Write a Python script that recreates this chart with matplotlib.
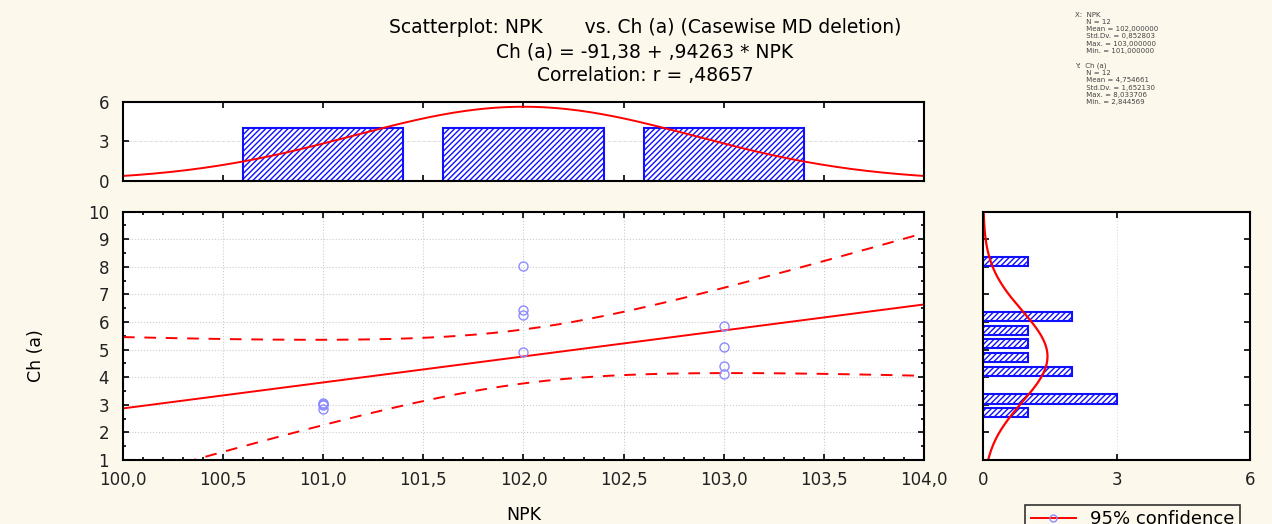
import numpy as np
import matplotlib
matplotlib.use("Agg")
import matplotlib.pyplot as plt
from matplotlib.lines import Line2D

plt.rcParams['font.family'] = ['DejaVu Sans']

# data
npk = [101, 101, 101, 101, 102, 102, 102, 102, 103, 103, 103, 103]
ch_a = [3.08, 3.04, 2.98, 2.845, 8.034, 6.42, 6.24, 4.93, 5.86, 5.10, 4.42, 4.10]
ch_bins = [2.46, 2.96, 3.46, 3.96, 4.46, 4.96, 5.46, 5.96, 6.46, 6.96, 7.46, 7.96, 8.46]

title_lines = ["Scatterplot: NPK       vs. Ch (a) (Casewise MD deletion)",
               "Ch (a) = -91,38 + ,94263 * NPK",
               "Correlation: r = ,48657"]
stats_text = ("X:  NPK\n     N = 12\n     Mean = 102,000000\n     Std.Dv. = 0,852803\n"
              "     Max. = 103,000000\n     Min. = 101,000000\n\n"
              "Y:  Ch (a)\n     N = 12\n     Mean = 4,754661\n     Std.Dv. = 1,652130\n"
              "     Max. = 8,033706\n     Min. = 2,844569")

x = np.array(npk, float)
y = np.array(ch_a, float)
n = len(x)
slope, icpt = np.polyfit(x, y, 1)
res = y - (icpt + slope * x)
s = np.sqrt(np.sum(res ** 2) / (n - 2))
t = 2.228  # t(0.975, 10)

bg = '#fdf8ec'
blue = '#1010ff'
fig = plt.figure(figsize=(12.72, 5.24), dpi=100, facecolor=bg)

ax = fig.add_axes([0.0967, 0.1221, 0.6297, 0.4739])
axt = fig.add_axes([0.0967, 0.6552, 0.6297, 0.1508])
axr = fig.add_axes([0.773, 0.1221, 0.2097, 0.4739])

# main scatter
xx = np.linspace(100, 104, 200)
fit = icpt + slope * xx
hw = t * s * np.sqrt(1.0 / n + (xx - x.mean()) ** 2 / np.sum((x - x.mean()) ** 2))
ax.plot(xx, fit, color='red', lw=1.4)
ax.plot(xx, fit + hw, color='red', lw=1.4, ls=(0, (6, 5)))
ax.plot(xx, fit - hw, color='red', lw=1.4, ls=(0, (6, 5)))
ax.plot(x, y, 'o', ms=6.5, mfc='none', mec='#8c8cff', mew=1.0)
ax.set_xlim(100, 104)
ax.set_ylim(1, 10)
ax.set_xticks(np.arange(100, 104.01, 0.5))
ax.set_xticklabels([("%.1f" % v).replace('.', ',') for v in np.arange(100, 104.01, 0.5)])
ax.set_yticks(range(1, 11))
ax.set_xticks(np.arange(100, 104.01, 0.1), minor=True)
ax.set_yticks(np.arange(1, 10.01, 0.5), minor=True)
ax.grid(True, color='#cccccc', ls=':', lw=0.8)
ax.set_xlabel("NPK", fontsize=12.5, labelpad=12)
ax.set_ylabel("Ch (a)", fontsize=12.5)
ax.yaxis.set_label_coords(-0.097, 0.42)

# top histogram
axt.bar([101, 102, 103], [4, 4, 4], width=0.8, facecolor='white', edgecolor=blue,
        hatch='//////', lw=1.5)
pdf_x = np.exp(-0.5 * ((xx - x.mean()) / x.std(ddof=1)) ** 2) / (x.std(ddof=1) * np.sqrt(2 * np.pi))
axt.plot(xx, n * 1.0 * pdf_x, color='red', lw=1.4)
axt.set_xlim(100, 104)
axt.set_ylim(0, 6)
axt.set_yticks([0, 3, 6])
axt.set_xticks(np.arange(100.5, 104, 0.5))
axt.set_xticklabels([])
axt.yaxis.grid(True, color='#dddddd', ls='--', lw=0.7)

# right histogram
cnt, edges = np.histogram(y, bins=ch_bins)
ctr = (edges[:-1] + edges[1:]) / 2
keep = cnt > 0
axr.barh(ctr[keep], cnt[keep], height=0.33, facecolor='white', edgecolor=blue,
         hatch='//////', lw=1.5)
yy = np.linspace(1, 10, 200)
pdf_y = np.exp(-0.5 * ((yy - y.mean()) / y.std(ddof=1)) ** 2) / (y.std(ddof=1) * np.sqrt(2 * np.pi))
axr.plot(n * 0.5 * pdf_y, yy, color='red', lw=1.6)
axr.set_xlim(0, 6)
axr.set_ylim(1, 10)
axr.set_xticks([0, 3, 6])
axr.set_yticks(range(1, 11))
axr.set_yticklabels([])
axr.xaxis.grid(True, color='#dddddd', ls=':', lw=0.8)

for a in (ax, axt, axr):
    a.set_facecolor('white')
    for sp in a.spines.values():
        sp.set_linewidth(1.5)
    a.tick_params(which='both', direction='in', top=True, right=True,
                  labelsize=12, width=1.2, labelcolor='#222222')
    a.tick_params(which='major', length=4, pad=8)
    a.tick_params(which='minor', length=2)
    a.tick_params(axis='y', which='major', pad=10)
    a.set_axisbelow(True)

fig.text(0.507, 0.947, title_lines[0], ha='center', va='center', fontsize=13.5)
fig.text(0.507, 0.900, title_lines[1], ha='center', va='center', fontsize=13.5)
fig.text(0.507, 0.855, title_lines[2], ha='center', va='center', fontsize=13.5)
fig.text(0.845, 0.978, stats_text, ha='left', va='top', fontsize=5, color='#444444',
         linespacing=1.25)

h = Line2D([0], [0], color='red', lw=1.4, marker='o', ms=5, mfc='none', mec='#8c8cff')
leg = fig.legend([h], ['95% confidence'], loc='upper left',
                 bbox_to_anchor=(0.799, 0.054), fontsize=13, frameon=True,
                 fancybox=False, edgecolor='black', facecolor=bg, borderpad=0.3,
                 handlelength=2.5)
leg.get_frame().set_linewidth(1.2)

fig.savefig("out.png", dpi=100, facecolor=bg)
